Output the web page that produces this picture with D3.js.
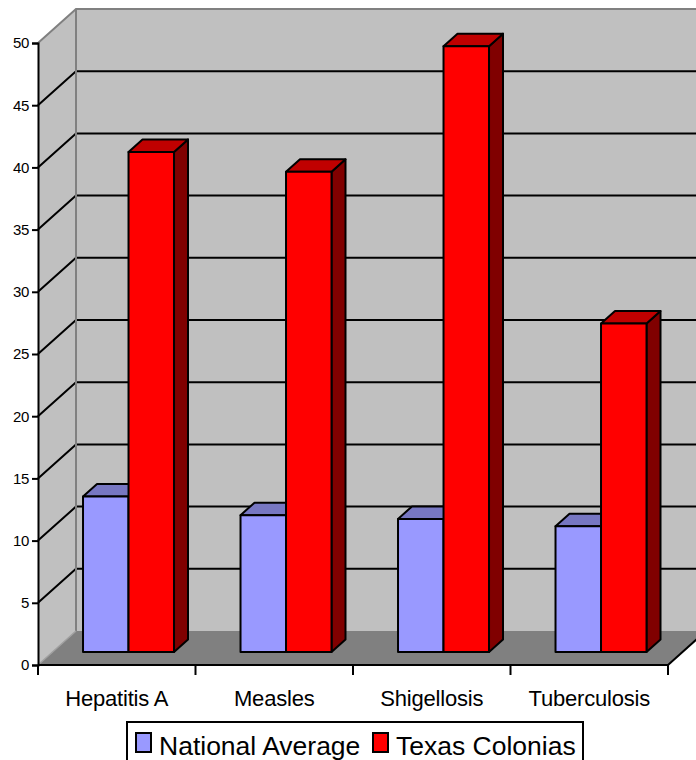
<!DOCTYPE html>
<html>
<head>
<meta charset="utf-8">
<script src="https://cdn.jsdelivr.net/npm/d3@7"></script>
<style>
  html, body { margin: 0; padding: 0; background: #fff; }
  svg { display: block; font-family: "Liberation Sans", Arial, sans-serif; }
</style>
</head>
<body>
<svg id="chart" width="696" height="760"></svg>
<script>
// Disease rates: national average vs. Texas colonias
const categories = ["Hepatitis A", "Measles", "Shigellosis", "Tuberculosis"];
const seriesNames = ["National Average", "Texas Colonias"];
const nationalAverage = [12.5, 11.0, 10.7, 10.1];
const texasColonias = [40.2, 38.6, 48.7, 26.4];
const yTicks = [0, 5, 10, 15, 20, 25, 30, 35, 40, 45, 50];

const seriesValues = [nationalAverage, texasColonias];
const palette = [
  { front: "#9999ff", top: "#7777c2", side: "#4d4d80" },
  { front: "#ff0000", top: "#c00000", side: "#800000" }
];

const svg = d3.select("#chart");

// Front plane geometry and oblique depth offset
const plotLeft = 38, plotRight = 668, plotTop = 43, plotBottom = 665;
const depthX = 38, depthY = -34;

const x = d3.scaleBand().domain(categories).range([plotLeft, plotRight]);
const y = d3.scaleLinear().domain([0, 50]).range([plotBottom, plotTop]);

// project a (x, value, depth) point onto the page
const P = (px, v, d) => [px + depthX * d, y(v) + depthY * d];
const poly = pts => pts.map(p => p.join(",")).join(" ");

// left wall
svg.append("polygon")
  .attr("points", poly([P(plotLeft, 0, 0), P(plotLeft, 50, 0), P(plotLeft, 50, 1), P(plotLeft, 0, 1)]))
  .attr("fill", "#c0c0c0");
// back wall
svg.append("polygon")
  .attr("points", poly([P(plotLeft, 0, 1), P(plotLeft, 50, 1), P(plotRight + 60, 50, 1), P(plotRight + 60, 0, 1)]))
  .attr("fill", "#c0c0c0");
// floor
svg.append("polygon")
  .attr("points", poly([P(plotLeft, 0, 0), P(plotLeft, 0, 1), P(plotRight, 0, 1), P(plotRight, 0, 0)]))
  .attr("fill", "#808080");

// gridlines: diagonal on the left wall, horizontal on the back wall
const grid = svg.append("g");
yTicks.filter(t => t > 0 && t < 50).forEach(t => {
  grid.append("polyline")
    .attr("points", poly([P(plotLeft, t, 0), P(plotLeft, t, 1), P(plotRight + 60, t, 1)]))
    .attr("fill", "none").attr("stroke", "#000").attr("stroke-width", 2);
});

// wall edges
svg.append("polyline")
  .attr("points", poly([P(plotLeft, 50, 0), P(plotLeft, 50, 1), P(plotRight + 60, 50, 1)]))
  .attr("fill", "none").attr("stroke", "#808080").attr("stroke-width", 2);
svg.append("line")
  .attr("x1", P(plotLeft, 0, 1)[0]).attr("y1", P(plotLeft, 0, 1)[1])
  .attr("x2", P(plotLeft, 50, 1)[0]).attr("y2", P(plotLeft, 50, 1)[1])
  .attr("stroke", "#808080").attr("stroke-width", 2);
svg.append("line")
  .attr("x1", P(plotLeft, 0, 0)[0]).attr("y1", P(plotLeft, 0, 0)[1])
  .attr("x2", P(plotLeft, 0, 1)[0]).attr("y2", P(plotLeft, 0, 1)[1])
  .attr("stroke", "#a0a0a0").attr("stroke-width", 1.5);
// floor right edge
svg.append("line")
  .attr("x1", P(plotRight, 0, 0)[0]).attr("y1", P(plotRight, 0, 0)[1])
  .attr("x2", P(plotRight, 0, 1)[0]).attr("y2", P(plotRight, 0, 1)[1])
  .attr("stroke", "#000").attr("stroke-width", 2);

// bars
const inner = d3.scaleBand().domain(d3.range(seriesNames.length))
  .range([0, 91]);
const barOffset = 30.5;          // gap before the first bar inside a band
const d0 = 0.382, d1 = 0.75;     // bar front / back depth

const bars = svg.append("g");
categories.forEach((c, i) => {
  seriesValues.forEach((vals, s) => {
    const v = vals[i];
    const x0 = x(c) + barOffset + inner(s);
    const x1 = x0 + inner.bandwidth();
    const col = palette[s];
    const g = bars.append("g")
      .attr("stroke", "#000").attr("stroke-width", 2).attr("stroke-linejoin", "round");
    // right side
    g.append("polygon")
      .attr("points", poly([P(x1, 0, d0), P(x1, v, d0), P(x1, v, d1), P(x1, 0, d1)]))
      .attr("fill", col.side);
    // top
    g.append("polygon")
      .attr("points", poly([P(x0, v, d0), P(x0, v, d1), P(x1, v, d1), P(x1, v, d0)]))
      .attr("fill", col.top);
    // front
    g.append("polygon")
      .attr("points", poly([P(x0, 0, d0), P(x0, v, d0), P(x1, v, d0), P(x1, 0, d0)]))
      .attr("fill", col.front);
  });
});

// value axis
const yAxis = d3.axisLeft(y).tickValues(yTicks).tickSize(6).tickPadding(3);
const gy = svg.append("g").attr("transform", `translate(${plotLeft},0)`).call(yAxis);
gy.select(".domain").attr("stroke", "#000").attr("stroke-width", 2);
gy.selectAll(".tick line").attr("stroke", "#000").attr("stroke-width", 2);
gy.selectAll(".tick text")
  .attr("font-family", "'Liberation Sans', Arial, sans-serif")
  .attr("font-size", 15).attr("letter-spacing", -0.3).attr("fill", "#000");

// category axis
const xAxis = d3.axisBottom(x).tickSize(0).tickPadding(0);
const gx = svg.append("g").attr("transform", `translate(0,${plotBottom})`).call(xAxis);
gx.select(".domain").remove();
gx.selectAll(".tick text")
  .attr("font-family", "'Liberation Sans', Arial, sans-serif")
  .attr("font-size", 22).attr("letter-spacing", -0.2).attr("fill", "#000")
  .attr("dy", 0).attr("y", 41);
// category separators
const sepX = categories.map(c => x(c)).concat([plotRight]);
svg.append("line")
  .attr("x1", plotLeft).attr("x2", plotRight)
  .attr("y1", plotBottom).attr("y2", plotBottom)
  .attr("stroke", "#000").attr("stroke-width", 2);
svg.append("g").selectAll("line").data(sepX).join("line")
  .attr("x1", d => d).attr("x2", d => d)
  .attr("y1", plotBottom).attr("y2", plotBottom + 10)
  .attr("stroke", "#000").attr("stroke-width", 2);

// legend
const legend = svg.append("g");
legend.append("rect")
  .attr("x", 127).attr("y", 722).attr("width", 456).attr("height", 50)
  .attr("fill", "#fff").attr("stroke", "#000").attr("stroke-width", 2);
const legendX = [136, 373];
seriesNames.forEach((name, s) => {
  legend.append("rect")
    .attr("x", legendX[s]).attr("y", 733).attr("width", 15).attr("height", 19)
    .attr("fill", palette[s].front).attr("stroke", "#000").attr("stroke-width", 2);
  legend.append("text")
    .attr("x", legendX[s] + 23).attr("y", 755)
    .attr("font-size", 26.5)
    .attr("fill", "#000")
    .text(name);
});
</script>
</body>
</html>
